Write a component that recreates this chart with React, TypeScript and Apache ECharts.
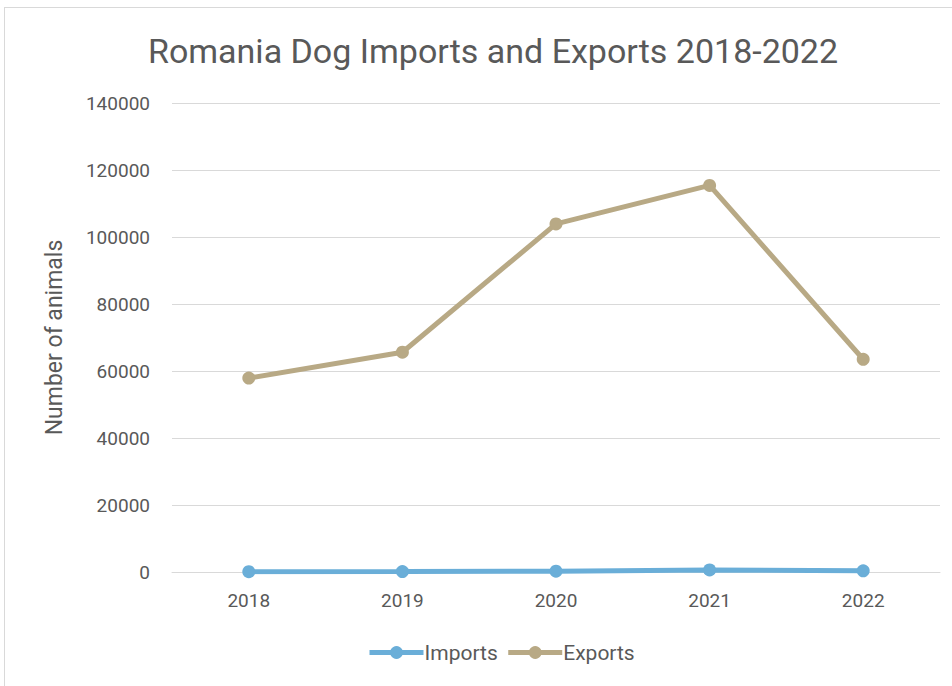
import React, { useEffect, useRef } from "react";
import * as echarts from "echarts";

const years = ["2018", "2019", "2020", "2021", "2022"];
const imports = [100, 120, 250, 600, 350];
const exports = [57900, 65600, 103900, 115400, 63500];
const yTicks = { min: 0, max: 140000, interval: 20000 };

export default function App() {
  const ref = useRef<HTMLDivElement>(null);
  useEffect(() => {
    document.body.style.margin = "0";
    const chart = echarts.init(ref.current!, null, { renderer: "svg" });
    const font = "Roboto, 'DejaVu Sans', sans-serif";
    chart.setOption({
      animation: false,
      backgroundColor: "transparent",
      textStyle: { fontFamily: font, color: "#595959" },
      title: {
        text: "Romania Dog Imports and Exports 2018-2022",
        left: 488,
        textAlign: "center",
        top: 29,
        textStyle: { fontSize: 34, fontWeight: "normal", color: "#595959", fontFamily: font },
      },
      legend: {
        bottom: 18,
        left: 362,
        itemWidth: 54,
        itemHeight: 16,
        itemGap: 8,
        lineStyle: { width: 5 },
        textStyle: { fontSize: 21, color: "#595959", fontFamily: font, padding: [0, 0, 0, -4] },
        data: ["Imports", "Exports"],
      },
      grid: { left: 172, right: 12, top: 103, bottom: 114, containLabel: false },
      xAxis: {
        type: "category",
        data: years,
        boundaryGap: true,
        axisLine: { lineStyle: { color: "#d9d9d9", width: 1 } },
        axisTick: { show: false },
        axisLabel: { fontSize: 19, color: "#595959", margin: 19, fontFamily: font },
      },
      yAxis: {
        type: "value",
        min: yTicks.min,
        max: yTicks.max,
        interval: yTicks.interval,
        name: "Number of animals",
        nameLocation: "middle",
        nameGap: 106,
        nameTextStyle: { fontSize: 23, color: "#595959", fontFamily: font },
        axisLine: { show: false },
        axisTick: { show: false },
        axisLabel: { fontSize: 19, color: "#595959", margin: 22, fontFamily: font, formatter: (v: number) => String(v) },
        splitLine: { lineStyle: { color: "#d9d9d9", width: 1 } },
      },
      series: [
        {
          name: "Imports",
          type: "line",
          data: imports,
          symbol: "circle",
          symbolSize: 13,
          lineStyle: { width: 5, color: "#6aaed8" },
          itemStyle: { color: "#6aaed8" },
        },
        {
          name: "Exports",
          type: "line",
          data: exports,
          symbol: "circle",
          symbolSize: 13,
          lineStyle: { width: 5, color: "#b8a985" },
          itemStyle: { color: "#b8a985" },
        },
      ],
    });
    return () => chart.dispose();
  }, []);
  return (
    <div style={{ position: "relative", width: 952, height: 686, overflow: "hidden", background: "#fff" }}>
      <div
        style={{
          position: "absolute",
          left: 4,
          top: 7,
          width: 970,
          height: 700,
          border: "1px solid #d9d9d9",
          boxSizing: "border-box",
        }}
      />
      <div ref={ref} style={{ position: "absolute", left: 0, top: 0, width: 952, height: 686 }} />
    </div>
  );
}
